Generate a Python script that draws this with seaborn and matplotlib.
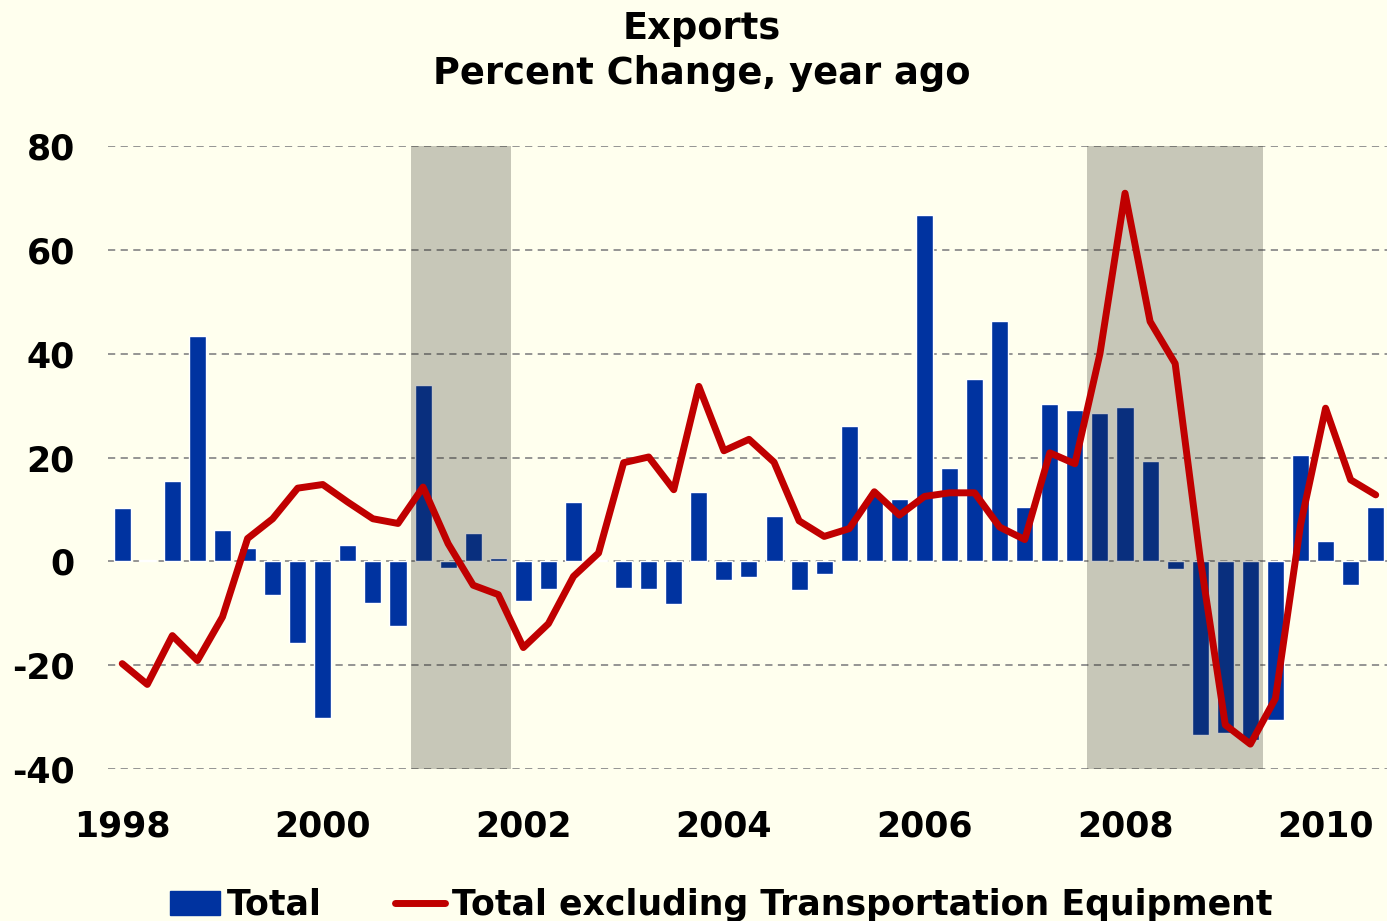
import numpy as np
import pandas as pd
import matplotlib
matplotlib.use("Agg")
import matplotlib.pyplot as plt
import seaborn as sns
from matplotlib.patches import Rectangle
from matplotlib.lines import Line2D

# quarterly data, 1998Q1 .. 2010Q3
quarters = [f"{y}Q{q}" for y in range(1998, 2011) for q in range(1, 5)][:51]

total = [10.3, 0.3, 15.4, 43.4, 6.0, 2.6, -6.5, -15.7,
         -30.1, 3.1, -8.1, -12.4, 33.9, -1.3, 5.5, 0.7,
         -7.6, -5.3, 11.4, 0.2, -5.1, -5.3, -8.2, 13.4,
         -3.5, -3.1, 8.7, -5.5, -2.4, 26.0, 12.7, 12.1,
         66.7, 17.9, 35.1, 46.3, 10.5, 30.4, 29.2, 28.5,
         29.8, 19.4, -1.5, -33.5, -33.0, -34.5, -30.6, 20.4,
         4.0, -4.5, 10.4]

excl_transport = [-19.7, -23.7, -14.3, -19.1, -10.7, 4.4, 8.2, 14.1,
                  14.8, 11.4, 8.2, 7.3, 14.3, 3.4, -4.6, -6.4,
                  -16.6, -12.0, -2.9, 1.6, 19.0, 20.1, 13.8, 33.7,
                  21.3, 23.5, 19.1, 7.8, 4.8, 6.3, 13.4, 8.9,
                  12.5, 13.2, 13.2, 6.6, 4.2, 20.9, 18.8, 40.0,
                  70.9, 46.2, 38.1, 0.5, -31.5, -35.2, -26.4, 7.0,
                  29.5, 15.7, 12.8]

# recessions, as (first quarter, last quarter)
recessions = [("2001Q1", "2001Q4"), ("2007Q4", "2009Q2")]

year_ticks = ["1998", "2000", "2002", "2004", "2006", "2008", "2010"]

df = pd.DataFrame({"quarter": quarters, "total": total, "excl": excl_transport})
df["idx"] = np.arange(len(df))

bg = "#FFFFEE"
blue = "#0033A0"
red = "#C00000"

sns.set_style("white")
plt.rcParams["font.family"] = ["DejaVu Sans"]
plt.rcParams["font.weight"] = "bold"
plt.rcParams["text.color"] = "black"
plt.rcParams["xtick.color"] = "black"
plt.rcParams["ytick.color"] = "black"
plt.rcParams["axes.unicode_minus"] = False

fig = plt.figure(figsize=(13.87, 9.21), dpi=100, facecolor=bg)
ax = fig.add_axes([0.078, 0.165, 0.922, 0.6765])
ax.set_facecolor(bg)

sns.barplot(data=df, x="idx", y="total", color=blue, saturation=1,
            width=0.68, ax=ax, zorder=2)

# recession shading (translucent, so bars under it look darker)
for start, end in recessions:
    a = quarters.index(start) - 0.5
    b = quarters.index(end) + 0.5
    ax.axvspan(a, b, color="#27271B", alpha=0.255, lw=0, zorder=3)

sns.lineplot(data=df, x="idx", y="excl", color=red, lw=5, ax=ax,
             zorder=4, solid_joinstyle="round", solid_capstyle="round")

ax.set_ylim(-40, 80)
ax.set_xlim(-0.56, 50.45)
ax.set_yticks(range(-40, 81, 20))
ax.yaxis.grid(True, ls=(0, (4, 3)), color="#8C8C8C", lw=1.3, zorder=0)
ax.set_axisbelow(True)
ax.set_xticks([quarters.index(y + "Q1") for y in year_ticks])
ax.set_xticklabels(year_ticks)
ax.tick_params(axis="x", length=0, pad=29, labelsize=25)
ax.tick_params(axis="y", length=0, pad=24, labelsize=25)
for lab in ax.get_xticklabels() + ax.get_yticklabels():
    lab.set_fontweight("bold")
ax.set_xlabel("")
ax.set_ylabel("")
sns.despine(ax=ax, left=True, bottom=True)

fig.text(0.506, 0.969, "Exports", ha="center", va="center",
         fontsize=26.5, fontweight="bold")
fig.text(0.506, 0.920, "Percent Change, year ago", ha="center", va="center",
         fontsize=26.5, fontweight="bold")

handles = [Rectangle((0, 0), 1, 1, color=blue),
           Line2D([0], [0], color=red, lw=5, solid_capstyle="round")]
fig.legend(handles, ["Total", "Total excluding Transportation Equipment"],
           loc="lower center", bbox_to_anchor=(0.52, -0.035), ncol=2,
           frameon=False, handlelength=1.45, handletextpad=0.2,
           columnspacing=2.1, prop={"weight": "bold", "size": 25})

fig.savefig("out.png", dpi=100, facecolor=bg)
